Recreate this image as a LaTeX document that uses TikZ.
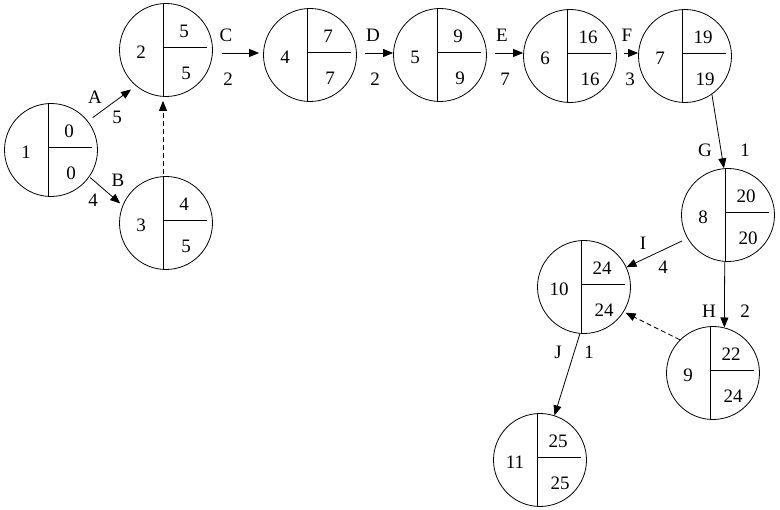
\documentclass[tikz,border=0pt]{standalone}
\usepackage{fontspec}
\setmainfont{Liberation Serif}
\usetikzlibrary{arrows.meta}

\tikzset{
  evt/.style={draw, circle, minimum size=93pt, inner sep=0pt},
  lab/.style={inner sep=0pt, font=\fontsize{19}{22}\selectfont},
  act/.style={-{Triangle[length=10pt,width=8pt]}, line width=0.8pt},
  dum/.style={act, dash pattern=on 5pt off 3pt},
}

% event circle: name, position, number, earliest, latest
\newcommand{\evt}[5]{%
  \node[evt] (#1) at (#2) {};
  \draw ([xshift=-3pt]#1.north) -- ([xshift=-3pt]#1.south);
  \draw ([xshift=-3pt,yshift=3pt]#1.center) -- ([xshift=41pt,yshift=3pt]#1.center);
  \node[lab] (#1n) at ([xshift=-25pt,yshift=-2pt]#1.center) {#3};
  \node[lab] (#1e) at ([xshift=18pt,yshift=19pt]#1.center) {#4};
  \node[lab] (#1l) at ([xshift=20pt,yshift=-23pt]#1.center) {#5};
}

\begin{document}
\begin{tikzpicture}[x=1pt, y=-1pt, line width=0.8pt]
\useasboundingbox (0,0) rectangle (780,510);

%les evenements
\evt{n1}{51,150}{1}{0}{0}
\evt{n2}{166,50}{2}{5}{5}
\evt{n3}{166,223}{3}{4}{5}
\evt{n4}{310,55}{4}{7}{7}
\evt{n5}{440,55}{5}{9}{9}
\evt{n6}{570,56}{6}{16}{16}
\evt{n7}{685,56}{7}{19}{19}
\evt{n8}{728,215}{8}{20}{20}
\evt{n9}{713,373}{9}{22}{24}
\evt{n10}{584,287}{10}{24}{24}
\evt{n11}{540,460}{11}{25}{25}

%les activites
\draw[act, shorten <=6pt, shorten >=6pt] (n1.38) -- (n2.230);
\draw[act, shorten <=1pt, shorten >=3pt] (n1.-35) -- (n3.158);
\draw[dum, shorten <=2pt, shorten >=4pt] ([xshift=-3pt]n3.north) -- ([xshift=-3pt]n2.south);
\draw[act, shorten <=9pt, shorten >=4pt] ([yshift=-3pt]n2.east) -- ([yshift=2pt]n4.west);
\draw[act, shorten <=8pt] ([yshift=2pt]n4.east) -- ([yshift=2pt]n5.west);
\draw[act, shorten <=8pt] ([yshift=2pt]n5.east) -- ([yshift=3pt]n6.west);
\draw[act, shorten <=7pt] ([yshift=3pt]n6.east) -- ([yshift=3pt]n7.west);
\draw[act] (n7.-55) -- (n8.95);
\draw[act, shorten <=6pt] (n8.210) -- (n10.25);
\draw[act] (n8.-94) -- (n9.76);
\draw[dum, shorten >=2pt] (n9.135) -- (n10.-32);
\draw[act] (n10.-95) -- (n11.72);

%noms et durees
\node[lab] (lA) at (95,97) {A};
\node[lab] (dA) at (117,117) {5};
\node[lab] (lB) at (118,180) {B};
\node[lab] (dB) at (93,200) {4};
\node[lab] (lC) at (226,35) {C};
\node[lab] (dC) at (228,79) {2};
\node[lab] (lD) at (373,35) {D};
\node[lab] (dD) at (375,79) {2};
\node[lab] (lE) at (502,35) {E};
\node[lab] (dE) at (505,79) {7};
\node[lab] (lF) at (627,35) {F};
\node[lab] (dF) at (630,79) {3};
\node[lab] (lG) at (705,150) {G};
\node[lab] (dG) at (745,150) {1};
\node[lab] (lI) at (643,243) {I};
\node[lab] (dI) at (663,267) {4};
\node[lab] (lH) at (709,311) {H};
\node[lab] (dH) at (745,311) {2};
\node[lab] (lJ) at (558,352) {J};
\node[lab] (dJ) at (589,352) {1};

\end{tikzpicture}
\end{document}
